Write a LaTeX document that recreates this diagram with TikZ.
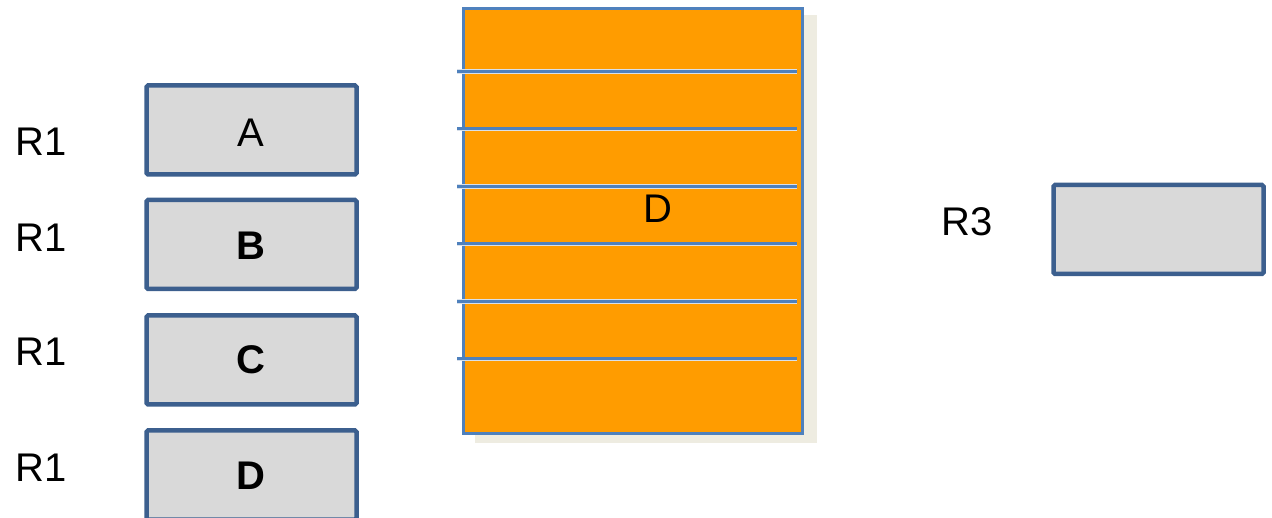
\documentclass[tikz,border=0pt]{standalone}
\usepackage{fontspec}
\setmainfont{Liberation Sans}
\definecolor{boxfill}{HTML}{D9D9D9}
\definecolor{boxline}{HTML}{3C5F8E}
\definecolor{orangefill}{HTML}{FF9C00}
\definecolor{lightblue}{HTML}{4F81BD}
\definecolor{shadowc}{HTML}{EEECE1}
\definecolor{lineedge}{HTML}{D8E0EA}
\tikzset{
  bigfont/.style={font=\fontsize{40}{42}\selectfont},
  graybox/.style={draw=boxline, fill=boxfill, line width=4.5pt, rounded corners=1.5pt,
    minimum width=210pt, minimum height=89pt, inner sep=0pt},
  lbl/.style={inner sep=0pt, bigfont, anchor=west},
  boxtext/.style={inner sep=0pt, bigfont},
  rowedge/.style={draw=lineedge, line width=4.5pt},
  rowline/.style={draw=lightblue, line width=3pt},
}
\begin{document}
\begin{tikzpicture}[x=1pt,y=-1pt]
\useasboundingbox (0,0) rectangle (1272,518);
% left labels
\node[lbl] (r1a) at (15,142) {R1};
\node[lbl] (r1b) at (15,238) {R1};
\node[lbl] (r1c) at (15,352) {R1};
\node[lbl] (r1d) at (15,468) {R1};
% left boxes
\node[graybox] (ba) at (251.5,130) {};
\node[boxtext] (ta) at (251,133) {A};
\node[graybox] (bb) at (251.5,244.5) {};
\node[boxtext, font=\fontsize{40}{42}\selectfont\bfseries] (tb) at (251,246) {B};
\node[graybox] (bc) at (251.5,360) {};
\node[boxtext, font=\fontsize{40}{42}\selectfont\bfseries] (tc) at (251,360) {C};
\node[graybox] (bd) at (251.5,475) {};
\node[boxtext, font=\fontsize{40}{42}\selectfont\bfseries] (td) at (251,476) {D};
% big table
\fill[shadowc] (475,15) rectangle (817,443);
\node[draw=lightblue, fill=orangefill, line width=3pt, minimum width=339pt, minimum height=425pt, inner sep=0pt] (big) at (632.5,221) {};
\foreach \yy [count=\i] in {71.5,129,186.5,244,301.5,359}{
  \coordinate (l\i) at (457,\yy);
  \coordinate (r\i) at (797,\yy);
  \draw[rowedge] (l\i) -- (r\i);
  \draw[rowline] (l\i) -- (r\i);
}
\node[boxtext] (bigd) at (658,209) {D};
% right
\node[lbl] (r3) at (941,222) {R3};
\node[graybox] (br3) at (1158.5,229.5) {};
\end{tikzpicture}
\end{document}
